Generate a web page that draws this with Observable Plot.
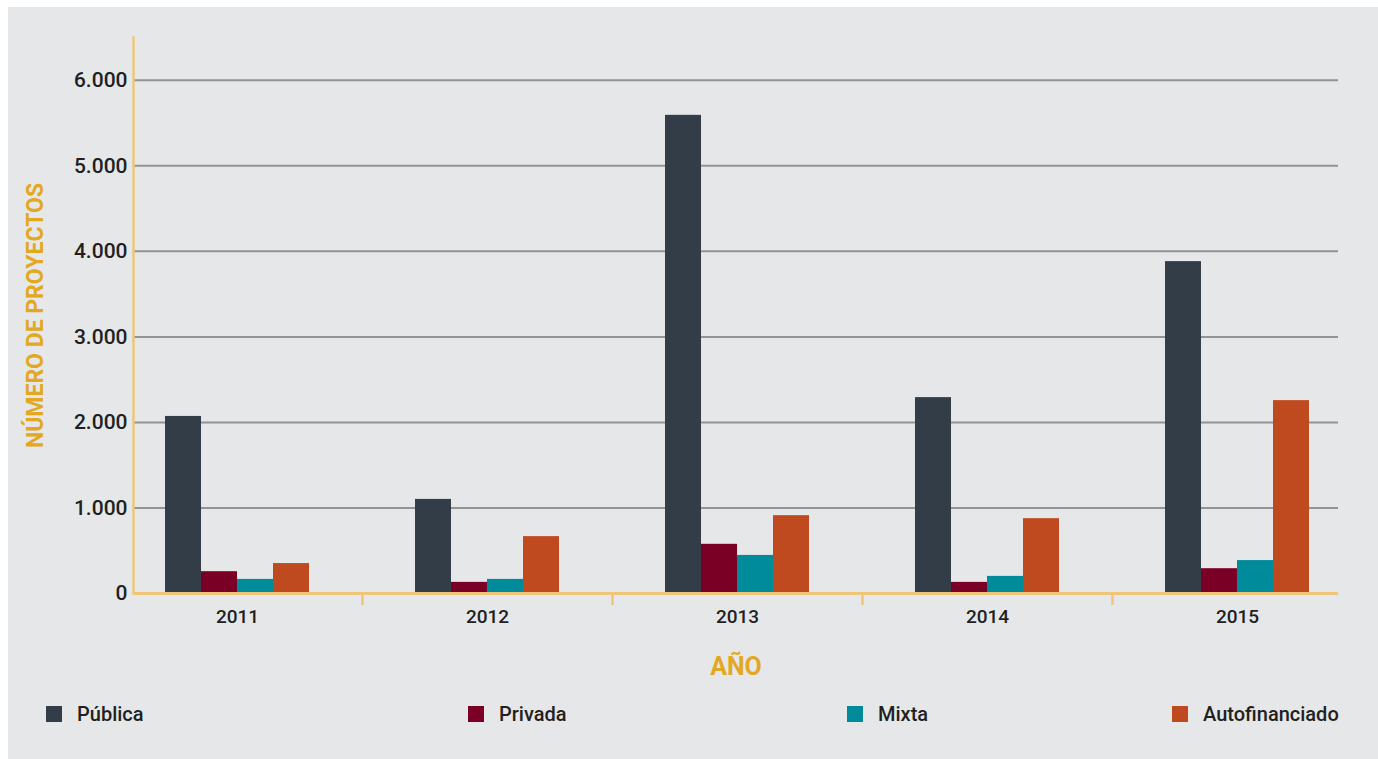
<!DOCTYPE html>
<html>
<head>
<meta charset="utf-8">
<script src="https://cdn.jsdelivr.net/npm/d3@7"></script>
<script src="https://cdn.jsdelivr.net/npm/@observablehq/plot@0.6"></script>
<style>
  html, body { margin: 0; padding: 0; background: #ffffff; }
  #panel { position: absolute; left: 8px; top: 7px; width: 1370px; height: 752px; background: #e6e7e9; }
  #chart { position: absolute; left: 0; top: 0; }
  #legend { position: absolute; left: 0; top: 0; width: 1378px; height: 759px; pointer-events: none;
            font-family: Roboto, sans-serif; font-size: 20px; font-weight: 500; color: #231f20; }
  .item { position: absolute; top: 703px; display: flex; align-items: center; height: 22px; }
  .sw { width: 16px; height: 16px; margin-right: 15px; }
</style>
</head>
<body>
<div id="panel"></div>
<div id="chart"></div>
<div id="legend"></div>
<script>
const years = ["2011", "2012", "2013", "2014", "2015"];
const series = ["Pública", "Privada", "Mixta", "Autofinanciado"];
const publica = [2070, 1100, 5590, 2290, 3880];
const privada = [255, 130, 575, 130, 290];
const mixta = [165, 165, 445, 200, 385];
const autofinanciado = [350, 665, 910, 875, 2255];
const yTicks = [0, 1000, 2000, 3000, 4000, 5000, 6000];
const colors = ["#333d48", "#7a0026", "#008b9b", "#bf4a1f"];

const values = [publica, privada, mixta, autofinanciado];
const data = [];
series.forEach((s, i) => years.forEach((y, j) => data.push({ year: y, series: s, value: values[i][j] })));

const fmt = d3.formatLocale({ decimal: ",", thousands: ".", grouping: [3], currency: ["", "€"] }).format(",");

const gold = "#e2a822";
const axisGold = "#efc677";
const band = 250, bw = 36, groupStart = band / 2 - 2 * bw;

const barMarks = series.map((s, i) => Plot.barY(data.filter(d => d.series === s), {
  x: "year", y: "value", fill: "series",
  insetLeft: groupStart + i * bw, insetRight: band - groupStart - (i + 1) * bw
}));

const chart = Plot.plot({
  width: 1378,
  height: 690,
  marginLeft: 133,
  marginRight: 40,
  marginTop: 37,
  marginBottom: 97,
  style: { background: "transparent", fontFamily: "Roboto, sans-serif", fontSize: "20px", fontWeight: 500, color: "#231f20" },
  x: { type: "band", domain: years, range: [112, 1362], padding: 0 },
  y: { domain: [0, 6500] },
  color: { domain: series, range: colors },
  marks: [
    Plot.ruleY(yTicks.slice(1), { stroke: "#939393", strokeWidth: 2 }),
    ...barMarks,
    Plot.ruleY([0], { stroke: axisGold, strokeWidth: 3 }),
    Plot.ruleX(years.slice(1), { x: d => d, y1: 0, y2: -140, dx: -band / 2, stroke: axisGold, strokeWidth: 2.5 }),
    Plot.frame({ anchor: "left", stroke: axisGold, strokeWidth: 2.5 }),
    Plot.axisY({ ticks: yTicks, tickFormat: fmt, tickSize: 0, tickPadding: 6, label: null, fontSize: 21 }),
    Plot.axisX({ tickSize: 0, tickPadding: 16, label: null, fontSize: 19 }),
    Plot.text(["AÑO"], { frameAnchor: "bottom", dy: 73, lineAnchor: "middle", fill: gold, fontWeight: "bold", fontSize: 25, letterSpacing: 1 }),
    Plot.text(["NÚMERO DE PROYECTOS"], { frameAnchor: "left", dx: -98, rotate: -90, lineAnchor: "middle", textAnchor: "middle", fill: gold, fontWeight: "bold", fontSize: 23, letterSpacing: 1.8 })
  ]
});
document.getElementById("chart").appendChild(chart);

const legendLeft = [46, 468, 847, 1172];
const legend = document.getElementById("legend");
series.forEach((s, i) => {
  const it = document.createElement("div");
  it.className = "item";
  it.style.left = legendLeft[i] + "px";
  it.innerHTML = `<span class="sw" style="background:${colors[i]}"></span><span>${s}</span>`;
  legend.appendChild(it);
});
</script>
</body>
</html>
